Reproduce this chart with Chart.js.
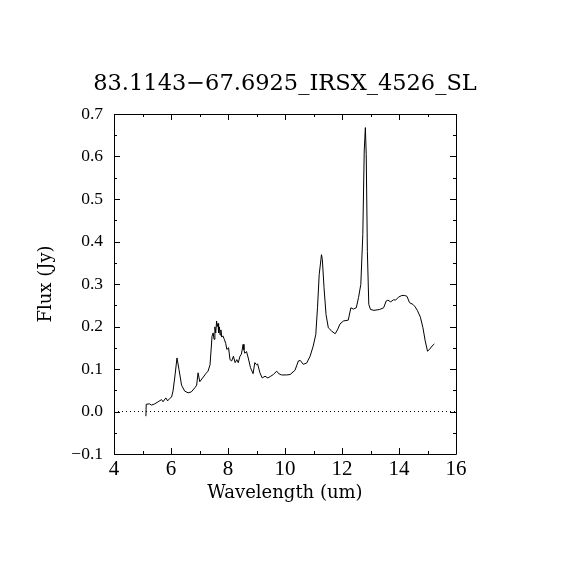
<!DOCTYPE html>
<html>
<head>
<meta charset="utf-8">
<script src="https://cdn.jsdelivr.net/npm/chart.js@4/dist/chart.umd.min.js"></script>
<style>
  html, body { margin: 0; padding: 0; background: #fff; }
  #wrap { width: 570px; height: 570px; }
</style>
</head>
<body>
<div id="wrap"><canvas id="specChart" width="570" height="570"></canvas></div>
<script>
// spectrum
const wavelength = [
  5.12, 5.13, 5.25, 5.31, 5.43, 5.55, 5.67, 5.72, 5.82, 5.88, 5.96, 6.02, 6.07, 6.13,
  6.21, 6.28, 6.37, 6.48, 6.60, 6.71, 6.84, 6.90, 6.95, 7.01, 7.11, 7.22, 7.30, 7.37,
  7.44, 7.48, 7.51, 7.54, 7.57, 7.60, 7.62, 7.65, 7.67, 7.70, 7.72, 7.75, 7.78, 7.82,
  7.87, 7.92, 7.96, 8.02, 8.07, 8.13, 8.19, 8.25, 8.31, 8.36, 8.42, 8.47, 8.53, 8.56,
  8.59, 8.65, 8.71, 8.79, 8.88, 8.94, 9.00, 9.04, 9.12, 9.20, 9.30, 9.40, 9.50, 9.59,
  9.71, 9.78, 9.88, 10.05, 10.18, 10.35, 10.47, 10.54, 10.64, 10.76, 10.88, 10.99,
  11.08, 11.14, 11.20, 11.28, 11.31, 11.37, 11.44, 11.52, 11.64, 11.76, 11.84, 11.93,
  12.05, 12.22, 12.31, 12.40, 12.50, 12.58, 12.66, 12.73, 12.78, 12.82, 12.85, 12.89,
  12.94, 13.00, 13.12, 13.32, 13.46, 13.55, 13.61, 13.71, 13.81, 13.88, 13.98, 14.10,
  14.20, 14.28, 14.37, 14.49, 14.57, 14.65, 14.75, 14.84, 14.92, 15.00, 15.07, 15.16,
  15.24
];
const flux = [
  -0.011, 0.017, 0.018, 0.015, 0.018, 0.023, 0.028, 0.023, 0.032, 0.025, 0.031, 0.034, 0.048, 0.079,
  0.126, 0.099, 0.062, 0.048, 0.044, 0.046, 0.056, 0.062, 0.091, 0.070, 0.079, 0.089, 0.095, 0.110,
  0.177, 0.185, 0.170, 0.199, 0.185, 0.213, 0.200, 0.207, 0.185, 0.199, 0.180, 0.192, 0.175, 0.178,
  0.170, 0.160, 0.146, 0.150, 0.122, 0.119, 0.130, 0.115, 0.122, 0.115, 0.130, 0.135, 0.158, 0.145,
  0.137, 0.141, 0.126, 0.103, 0.089, 0.115, 0.110, 0.112, 0.091, 0.079, 0.083, 0.079, 0.083, 0.087,
  0.095, 0.089, 0.086, 0.086, 0.087, 0.097, 0.119, 0.120, 0.111, 0.114, 0.130, 0.154,
  0.181, 0.244, 0.322, 0.369, 0.358, 0.291, 0.228, 0.197, 0.189, 0.183, 0.192, 0.206,
  0.213, 0.215, 0.244, 0.241, 0.244, 0.268, 0.299, 0.416, 0.613, 0.668, 0.605, 0.377,
  0.252, 0.240, 0.238, 0.240, 0.244, 0.260, 0.262, 0.258, 0.263, 0.262, 0.269, 0.273,
  0.273, 0.271, 0.256, 0.252, 0.246, 0.237, 0.222, 0.197, 0.166, 0.142, 0.146, 0.154,
  0.159
];
const zeroLineX = [4, 16];
const zeroLineY = [0, 0];

const chartTitle = '83.1143\u221267.6925_IRSX_4526_SL';
const xLabel = 'Wavelength (um)';
const yLabel = 'Flux (Jy)';

// ticks drawn inside the box on all four sides, IDL style
const frameTicks = {
  id: 'frameTicks',
  afterDraw(chart) {
    const { ctx, chartArea: a, scales: { x, y } } = chart;
    ctx.save();
    ctx.strokeStyle = '#000';
    ctx.lineWidth = 1;
    ctx.beginPath();
    ctx.rect(Math.round(a.left) + 0.5, Math.round(a.top) + 0.5,
             Math.round(a.right - a.left), Math.round(a.bottom - a.top));
    for (let v = 4; v <= 16; v += 1) {
      const px = Math.round(x.getPixelForValue(v)) + 0.5;
      const len = v % 2 === 0 ? 6 : 3;
      ctx.moveTo(px, a.bottom); ctx.lineTo(px, a.bottom - len);
      ctx.moveTo(px, a.top); ctx.lineTo(px, a.top + len);
    }
    for (let i = -2; i <= 14; i++) {
      const v = i * 0.05;
      const py = Math.round(y.getPixelForValue(v)) + 0.5;
      const len = i % 2 === 0 ? 6 : 3;
      ctx.moveTo(a.left, py); ctx.lineTo(a.left + len, py);
      ctx.moveTo(a.right, py); ctx.lineTo(a.right - len, py);
    }
    ctx.stroke();
    ctx.restore();
  }
};

const ctx = document.getElementById('specChart').getContext('2d');
new Chart(ctx, {
  type: 'line',
  data: {
    datasets: [
      {
        data: wavelength.map((w, i) => ({ x: w, y: flux[i] })),
        borderColor: '#000',
        borderWidth: 1,
        pointRadius: 0,
        tension: 0
      },
      {
        data: zeroLineX.map((w, i) => ({ x: w, y: zeroLineY[i] })),
        borderColor: '#000',
        borderWidth: 1,
        borderDash: [1, 3],
        pointRadius: 0
      }
    ]
  },
  options: {
    responsive: false,
    devicePixelRatio: 1,
    animation: false,
    layout: { padding: 0 },
    plugins: {
      legend: { display: false },
      tooltip: { enabled: false },
      title: {
        display: true,
        text: chartTitle,
        color: '#000',
        font: { family: 'DejaVu Serif', size: 22.5, weight: 'normal' },
        padding: { top: 71, bottom: 16 }
      }
    },
    scales: {
      x: {
        type: 'linear',
        min: 4,
        max: 16,
        grid: { display: false, drawTicks: false },
        border: { display: false },
        ticks: {
          stepSize: 2,
          color: '#000',
          padding: 3,
          maxRotation: 0,
          font: { family: 'Liberation Serif', size: 21 }
        },
        title: {
          display: true,
          text: xLabel,
          color: '#000',
          font: { family: 'DejaVu Serif', size: 18 },
          padding: { top: 0, bottom: 66 }
        },
        afterFit: s => { s.height = 116; }
      },
      y: {
        min: -0.1,
        max: 0.7,
        grid: { display: false, drawTicks: false },
        border: { display: false },
        ticks: {
          stepSize: 0.1,
          color: '#000',
          padding: 11,
          font: { family: 'Liberation Serif', size: 17.5 },
          callback: v => (Math.abs(v) < 1e-9 ? 0 : v).toFixed(1).replace('-', '\u2212')
        },
        title: {
          display: true,
          text: yLabel,
          color: '#000',
          font: { family: 'DejaVu Serif', size: 18 },
          padding: { top: 36, bottom: 0 }
        },
        afterFit: s => { s.width = 114; }
      },
      // empty right axis, only keeps the plot box clear of the right edge
      yRight: {
        position: 'right',
        min: -0.1,
        max: 0.7,
        grid: { display: false, drawTicks: false },
        border: { display: false },
        ticks: { display: false },
        afterFit: s => { s.width = 114; }
      }
    }
  },
  plugins: [frameTicks]
});
</script>
</body>
</html>
